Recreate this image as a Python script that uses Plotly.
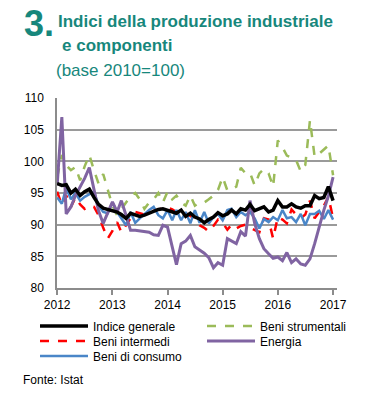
import plotly.graph_objects as go
import pandas as pd

# Monthly data Jan 2012 - Jan 2017 (base 2010=100)
months = pd.date_range("2012-01-01", "2017-01-01", freq="MS")

indice_generale = [96.5, 96.2, 96.3, 95.0, 95.6, 94.6, 95.2, 95.6, 94.3, 93.2, 92.6, 92.4,
                   92.3, 92.0, 91.6, 91.0, 91.8, 91.6, 91.3, 91.5, 91.8, 92.2, 92.4, 92.5,
                   92.3, 92.1, 91.8, 92.3, 91.3, 91.8, 91.2, 90.9, 90.3, 90.8, 91.2, 91.9,
                   91.4, 91.7, 92.3, 91.7, 92.5, 92.3, 93.2, 92.2, 92.5, 92.8, 92.0, 92.3,
                   93.8, 92.8, 92.8, 93.3, 92.8, 92.6, 93.0, 93.0, 94.6, 94.1, 94.3, 96.0, 93.8]

beni_strumentali = [97.5, 101.0, 99.4, 98.6, 99.1, 97.0, 99.2, 101.0, 98.6, 96.5, 98.0, 95.5,
                    93.0, 91.5, 92.5, 93.5, 94.5, 95.0, 94.0, 92.5, 93.5, 94.0, 95.0, 93.5,
                    95.2, 94.0, 94.6, 93.5, 93.0, 94.6, 93.0, 93.5, 93.5, 94.0, 94.6, 95.5,
                    97.5, 95.4, 95.6, 96.0, 99.0, 98.1, 98.2, 96.2, 98.1, 98.8, 98.1, 96.0,
                    103.3, 102.2, 100.9, 100.6, 100.2, 98.4, 99.4, 106.5, 100.7, 101.2, 101.8, 102.5, 97.8]

beni_intermedi = [95.2, 93.1, 94.6, 92.8, 94.3, 93.2, 92.5, 93.0, 92.8, 91.5, 89.5, 87.8,
                  89.0, 90.4, 88.8, 90.0, 91.0, 92.0, 91.8, 91.6, 92.0, 92.2, 92.5, 92.6,
                  92.7, 92.4, 92.0, 91.6, 91.8, 91.4, 90.8, 89.9, 89.5, 88.9, 89.8, 90.8,
                  90.3, 89.2, 90.0, 89.4, 89.8, 90.0, 89.5, 89.2, 88.8, 91.0, 90.8, 87.8,
                  91.2, 90.8, 90.2, 92.4, 91.6, 91.0, 91.6, 93.8, 91.0, 92.0, 93.0, 94.4, 91.0]

energia = [96.2, 107.0, 91.7, 92.8, 94.6, 95.9, 97.3, 99.0, 95.5, 92.2, 90.2, 91.8,
           93.6, 92.0, 93.8, 91.5, 89.1, 89.1, 89.0, 88.9, 88.8, 88.4, 88.3, 89.9,
           89.6, 86.5, 83.7, 87.0, 87.4, 88.3, 86.5, 86.0, 85.5, 84.8, 83.2, 84.0,
           83.6, 87.8, 87.4, 87.0, 88.9, 88.2, 93.8, 90.2, 87.8, 86.2, 85.4, 84.7,
           84.9, 84.3, 85.6, 84.0, 84.6, 83.8, 83.6, 84.6, 87.0, 89.8, 92.3, 94.5, 97.5]

beni_consumo = [94.3, 93.3, 95.8, 94.0, 95.0, 93.8, 94.4, 94.8, 95.2, 93.0, 92.0, 91.8,
                93.5, 92.0, 91.0, 89.9, 92.0, 90.3, 91.0, 91.7, 92.3, 92.8, 91.5, 91.0,
                92.3, 90.7, 92.3, 90.7, 92.0, 90.2, 92.3, 90.3, 92.0, 90.2, 91.2, 91.7,
                90.7, 92.3, 92.5, 91.2, 92.0, 91.5, 92.0, 91.0, 89.4, 90.9, 90.4, 91.2,
                90.7, 92.3, 91.0, 91.2, 90.4, 91.7, 89.9, 91.7, 91.7, 92.2, 90.9, 92.3, 90.8]

year_ticks = ["2012-01-01", "2013-01-01", "2014-01-01", "2015-01-01", "2016-01-01", "2017-01-01"]
year_labels = ["2012", "2013", "2014", "2015", "2016", "2017"]
y_ticks = [80, 85, 90, 95, 100, 105, 110]

TEAL = "#17877c"
FONT = "Liberation Sans, Arial, sans-serif"

W, H = 380, 400
L, R, T, B = 57, 337, 98, 288


def px(x):
    return (x - L) / (R - L)


def py(y):
    return (B - y) / (B - T)


fig = go.Figure()
fig.add_trace(go.Scatter(x=months, y=beni_strumentali, name="Beni strumentali", mode="lines",
                         line=dict(color="#9bbb59", width=2.5, dash="dash"), legend="legend2"))
fig.add_trace(go.Scatter(x=months, y=beni_intermedi, name="Beni intermedi", mode="lines",
                         line=dict(color="#ff0000", width=2.5, dash="dash"), legend="legend3"))
fig.add_trace(go.Scatter(x=months, y=beni_consumo, name="Beni di consumo", mode="lines",
                         line=dict(color="#4a86c8", width=2.5), legend="legend5"))
fig.add_trace(go.Scatter(x=months, y=energia, name="Energia", mode="lines",
                         line=dict(color="#8064a2", width=3), legend="legend4"))
fig.add_trace(go.Scatter(x=months, y=indice_generale, name="Indice generale", mode="lines",
                         line=dict(color="#000000", width=3.5), legend="legend"))

leg_common = dict(orientation="v", xref="container", yref="container", xanchor="left",
                  yanchor="middle", font=dict(family=FONT, size=12, color="#000"),
                  bgcolor="rgba(0,0,0,0)", itemwidth=48)

LEG_POS = {"legend": (35, 326), "legend2": (202, 326), "legend3": (35, 341),
           "legend4": (202, 341), "legend5": (35, 356)}

fig.update_layout(
    width=W, height=H,
    margin=dict(l=L, r=W - R, t=T, b=H - B, autoexpand=False),
    paper_bgcolor="white", plot_bgcolor="white",
    font=dict(family=FONT, size=12, color="#000"),
    showlegend=True,
    xaxis=dict(type="date", range=["2011-12-31", "2017-01-27"],
               tickvals=year_ticks, ticktext=year_labels,
               showgrid=False, showline=True, linecolor="#8c8c8c", linewidth=1.5,
               ticks="outside", ticklen=5, tickcolor="#8c8c8c", tickwidth=1.5,
               tickfont=dict(family=FONT, size=12, color="#000"), zeroline=False),
    yaxis=dict(range=[80, 110], tickvals=y_ticks, showgrid=True, gridcolor="#9a9a9a",
               gridwidth=1.5, showline=True, linecolor="#8c8c8c", linewidth=1.5,
               ticks="outside", ticklen=9, tickcolor="rgba(0,0,0,0)",
               tickfont=dict(family=FONT, size=12, color="#000"), zeroline=False),
)
for name, (lx, ly) in LEG_POS.items():
    fig.update_layout({name: dict(x=lx / W, y=1 - ly / H, **leg_common)})

annotations = [
    dict(text="<b>3.</b>", x=px(22), y=py(24), xanchor="left", yanchor="middle",
         font=dict(family=FONT, size=36, color=TEAL)),
    dict(text="<b>Indici della produzione industriale</b>", x=px(56), y=py(21),
         xanchor="left", yanchor="middle", font=dict(family=FONT, size=17, color=TEAL)),
    dict(text="<b>e componenti</b>", x=px(60), y=py(45), xanchor="left", yanchor="middle",
         font=dict(family=FONT, size=17, color=TEAL)),
    dict(text="(base 2010=100)", x=px(54), y=py(70), xanchor="left", yanchor="middle",
         font=dict(family=FONT, size=17, color=TEAL)),
    dict(text="Fonte: Istat", x=px(21), y=py(380), xanchor="left", yanchor="middle",
         font=dict(family=FONT, size=12, color="#000")),
]
for a in annotations:
    a.update(xref="paper", yref="paper", showarrow=False)
fig.update_layout(annotations=annotations)

fig.write_html("out.html", config={"displayModeBar": False},
               post_script="document.body.style.margin='0';")
